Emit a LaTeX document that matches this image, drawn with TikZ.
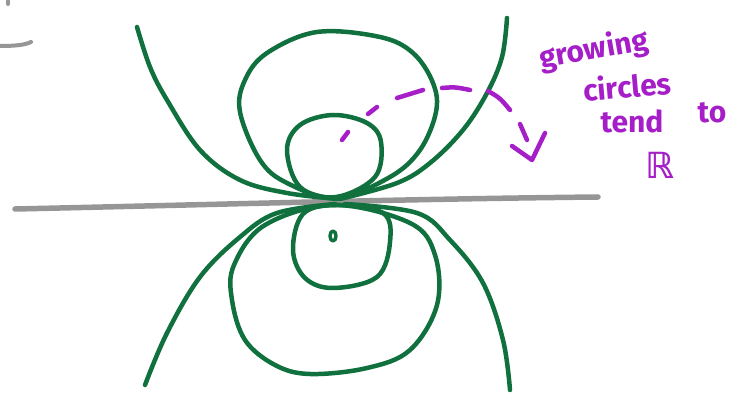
\documentclass[tikz,border=0pt]{standalone}
\usepackage{fontspec}
\newfontfamily\hand{Fira Sans}
\newfontfamily\symb{DejaVu Sans}
\definecolor{pgreen}{RGB}{16,112,62}
\definecolor{ppurple}{RGB}{165,30,200}
\definecolor{pgray}{RGB}{150,150,150}
\begin{document}
\begin{tikzpicture}[x=1pt,y=-1pt,
  gstroke/.style={draw=pgreen,line width=4.5pt,line cap=round,line join=round},
  pstroke/.style={draw=ppurple,line width=4.5pt,line cap=round,line join=round},
  note/.style={text=ppurple,font=\hand\bfseries\fontsize{30}{30}\selectfont,inner sep=0pt}]
\useasboundingbox (0,0) rectangle (736,398);
% gray axis
\draw[pgray,line width=5.5pt,line cap=round] (15,209) .. controls (200,205) and (400,199) .. (598,197);
\draw[pgray,line width=4pt,line cap=round] (0,46) .. controls (15,46) and (25,45) .. (31,42);
\draw[pgray,line width=4pt,line cap=round] (8,0) -- (8,4);
% upper open curves
\draw[gstroke] plot[smooth,tension=0.6] coordinates {(137,27) (150,67) (167,100) (200,150) (240,180) (287,193) (338,199)};
\draw[gstroke] plot[smooth,tension=0.6] coordinates {(507,18) (502,57) (487,93) (463,130) (430,163) (397,183) (340,199)};
% lower open curves
\draw[gstroke] plot[smooth,tension=0.6] coordinates {(145,385) (167,333) (200,277) (240,237) (277,213) (335,204)};
\draw[gstroke] plot[smooth,tension=0.6] coordinates {(510,390) (503,340) (483,283) (450,240) (417,213) (345,204)};
% upper large circle
\draw[gstroke] plot[smooth cycle,tension=0.6] coordinates {(336,198) (287,183) (260,160) (240,112) (245,80) (267,53) (317,32) (380,37) (413,53) (433,83) (436,112) (420,150) (390,177)};
% upper small circle
\draw[gstroke] plot[smooth cycle,tension=0.6] coordinates {(336,197) (300,187) (287,150) (300,125) (333,115) (367,123) (381,142) (375,177)};
% lower small circle
\draw[gstroke] plot[smooth cycle,tension=0.6] coordinates {(336,205) (303,214) (293,250) (305,278) (333,288) (377,277) (390,242) (383,213)};
% lower large circle
\draw[gstroke] plot[smooth cycle,tension=0.6] coordinates {(334,205) (265,225) (234,265) (232,300) (245,340) (275,365) (310,374) (367,368) (410,350) (437,305) (435,255) (410,223)};
% small mark
\draw[gstroke,line width=3.5pt] (333,236) ellipse (3pt and 5pt);
% purple dashed arc
\draw[pstroke] (342,140) -- (348,132);
\draw[pstroke] (368,114) -- (377,107);
\draw[pstroke] (397,98) -- (423,90);
\draw[pstroke] (442,88) .. controls (455,87) .. (470,90);
\draw[pstroke] (488,91) .. controls (500,98) .. (510,110);
\draw[pstroke] (520,124) -- (527,140);
\draw[pstroke] (512,146) -- (532,160) -- (545,133);
% text
\node[note,rotate=10] (t1) at (594,50) {growing};
\node[note,rotate=5] (t2) at (627,86) {circles};
\node[note] (t3) at (632,121) {tend};
\node[note] (t4) at (712,113) {to};
\node[note,font=\symb\bfseries\fontsize{36}{36}\selectfont] (t5) at (660,165) {ℝ};
\end{tikzpicture}
\end{document}
